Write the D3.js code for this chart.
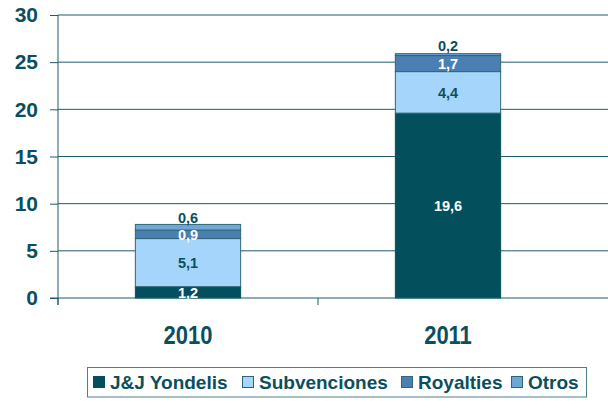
<!DOCTYPE html>
<html>
<head>
<meta charset="utf-8">
<script src="https://cdn.jsdelivr.net/npm/d3@7"></script>
<style>
  html, body { margin: 0; padding: 0; background: #ffffff; }
  svg { display: block; font-family: "Liberation Sans", Arial, sans-serif; font-weight: bold; }
</style>
</head>
<body>
<svg id="chart" width="608" height="401"></svg>
<script>
const categories = ["2010", "2011"];
const seriesNames = ["J&J Yondelis", "Subvenciones", "Royalties", "Otros"];
const yondelis = [1.2, 19.6];
const subvenciones = [5.1, 4.4];
const royalties = [0.9, 1.7];
const otros = [0.6, 0.2];
const yTicks = [0, 5, 10, 15, 20, 25, 30];

(function () {
const colors = ["#03505c", "#a6d5fb", "#4b7fb1", "#6ea6d8"];
const labelColors = ["#ffffff", "#0b4f5e", "#ffffff", "#0b4f5e"];
const labelDy = [0, 0, 0.5, -9];
const ink = "#0b4f5e";

const svg = d3.select("#chart");
const pLeft = 58, pRight = 578, pTop = 15, pBottom = 298;

const y = d3.scaleLinear().domain([0, 30]).range([pBottom, pTop]);
const x = d3.scaleBand().domain(categories).range([pLeft, pRight]).padding(0);
const barW = x.bandwidth() * 0.405;

// gridlines
svg.append("g").selectAll("line").data(yTicks.filter(d => d > 0)).join("line")
  .attr("x1", pLeft).attr("x2", 608)
  .attr("y1", d => y(d)).attr("y2", d => y(d))
  .attr("stroke", "#1d5c68").attr("stroke-width", 1);

// y axis
const yAxis = d3.axisLeft(y).tickValues(yTicks).tickSize(8).tickPadding(12).tickFormat(d3.format("d"));
const ya = svg.append("g").attr("transform", `translate(${pLeft},0)`).call(yAxis);
ya.select(".domain").attr("stroke", "#1d5c68").attr("d", `M0,${pTop}V${pBottom + 7}`);
ya.selectAll(".tick line").attr("stroke", "#1d5c68");
ya.selectAll(".tick text").attr("fill", ink).attr("font-size", 21).attr("font-weight", "bold")
  .attr("font-family", '"Liberation Sans", Arial, sans-serif');

// stacked data
const rows = categories.map((c, i) => ({
  cat: c,
  "J&J Yondelis": yondelis[i],
  "Subvenciones": subvenciones[i],
  "Royalties": royalties[i],
  "Otros": otros[i]
}));
const stack = d3.stack().keys(seriesNames)(rows);

const bars = svg.append("g");
stack.forEach((s, si) => {
  bars.append("g").selectAll("rect").data(s).join("rect")
    .attr("x", d => x(d.data.cat) + (x.bandwidth() - barW) / 2)
    .attr("width", barW)
    .attr("y", d => y(d[1]))
    .attr("height", d => y(d[0]) - y(d[1]))
    .attr("fill", colors[si])
    .attr("stroke", si === 0 ? colors[0] : "#2f6676")
    .attr("stroke-width", 1);
});

// x axis
svg.append("line").attr("x1", pLeft - 8).attr("x2", 608).attr("y1", pBottom).attr("y2", pBottom)
  .attr("stroke", "#1d5c68").attr("stroke-width", 1);
svg.append("g").selectAll("line").data([pLeft, pLeft + x.step()]).join("line")
  .attr("x1", d => d).attr("x2", d => d).attr("y1", pBottom).attr("y2", pBottom + 7)
  .attr("stroke", "#1d5c68");

svg.append("g").selectAll("text").data(categories).join("text")
  .attr("transform", d => `translate(${x(d) + x.bandwidth() / 2},344) scale(1,1.15)`)
  .attr("text-anchor", "middle")
  .attr("font-size", 22).attr("fill", ink)
  .text(d => d);

// data labels
const fmt = v => d3.format(".1f")(v).replace(".", ",");
stack.forEach((s, si) => {
  svg.append("g").selectAll("text").data(s).join("text")
    .attr("x", d => x(d.data.cat) + x.bandwidth() / 2)
    .attr("y", d => y((d[0] + d[1]) / 2) + labelDy[si])
    .attr("dy", "0.36em")
    .attr("text-anchor", "middle")
    .attr("font-size", 14.5)
    .attr("fill", labelColors[si])
    .text(d => fmt(d[1] - d[0]));
});

// legend
const lg = svg.append("g");
lg.append("rect").attr("x", 87.5).attr("y", 367.5).attr("width", 499).attr("height", 29.5)
  .attr("fill", "#ffffff").attr("stroke", "#4d7f8a").attr("stroke-width", 1);
const legendX = [93, 242, 401, 511];
seriesNames.forEach((n, i) => {
  lg.append("rect").attr("x", legendX[i] + 0.5).attr("y", 376.5).attr("width", 11).attr("height", 11)
    .attr("fill", colors[i]).attr("stroke", i === 0 ? colors[0] : "#2f6676");
  lg.append("text").attr("x", legendX[i] + 17).attr("y", 389)
    .attr("font-size", 19).attr("fill", ink).text(n);
});
})();
</script>
</body>
</html>
